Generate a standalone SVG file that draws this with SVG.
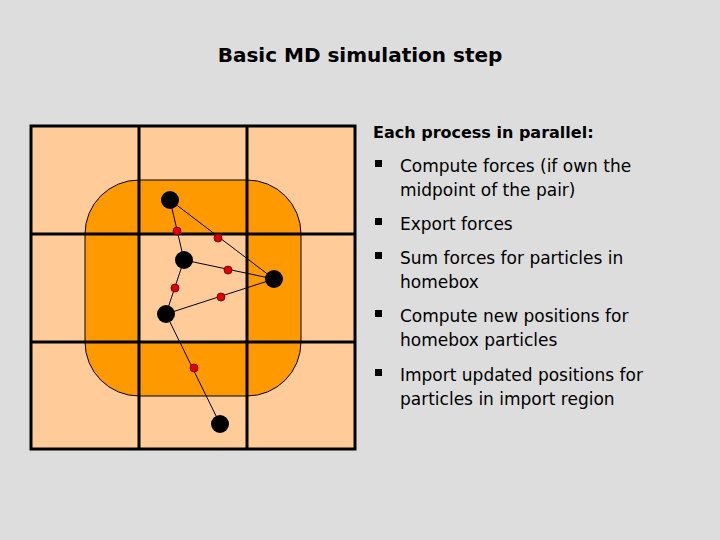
<svg xmlns="http://www.w3.org/2000/svg" width="720" height="540" viewBox="0 0 720 540">
<style>
.t{font-family:"DejaVu Sans","Liberation Sans",sans-serif;font-size:17px;fill:#000}
.b{font-weight:bold}
.g{stroke:#000;stroke-width:3;fill:none}
.bond{stroke:#000;stroke-width:1}
.p{fill:#000}
.m{fill:#e00000;stroke:#600;stroke-width:0.8}
</style>
<rect width="720" height="540" fill="#dddddd"/>
<text class="t b" x="360" y="62" text-anchor="middle" style="font-size:20px">Basic MD simulation step</text>
<g id="grid">
<rect x="31" y="126" width="324" height="323" fill="#ffcc99"/>
<path d="M139 180 H247 A54 54 0 0 1 301 234 V342 A54 54 0 0 1 247 396 H139 A54 54 0 0 1 85 342 V234 A54 54 0 0 1 139 180 Z" fill="#ff9900" stroke="#000" stroke-width="1"/>
<rect x="139" y="234" width="108" height="108" fill="#ffcc99"/>
<path class="g" d="M139 126V449M247 126V449M31 234H355M31 342H355"/>
<rect class="g" x="31" y="126" width="324" height="323"/>
</g>
<g id="connectors">
<path class="bond" d="M170 200L184 260M170 200L274 279M184 260L274 279M184 260L166 314M166 314L274 279M166 314L220 424"/>
</g>
<g id="particles">
<circle class="p" cx="170" cy="200" r="9"/>
<circle class="p" cx="184" cy="260" r="9"/>
<circle class="p" cx="166" cy="314" r="9"/>
<circle class="p" cx="274" cy="279" r="9"/>
<circle class="p" cx="220" cy="424" r="9"/>
</g>
<g id="midpoints">
<circle class="m" cx="177" cy="231" r="4"/>
<circle class="m" cx="218" cy="238" r="4"/>
<circle class="m" cx="228" cy="270" r="4"/>
<circle class="m" cx="175" cy="288" r="4"/>
<circle class="m" cx="221" cy="297" r="4"/>
<circle class="m" cx="194" cy="368" r="4"/>
</g>
<g id="text">
<text class="t b" x="373" y="138" style="font-size:16px">Each process in parallel:</text>
<g><rect x="375" y="160" width="7" height="7"/><rect x="375" y="218" width="7" height="7"/><rect x="375" y="252" width="7" height="7"/><rect x="375" y="310" width="7" height="7"/><rect x="375" y="369" width="7" height="7"/></g>
<text class="t" x="400" y="172">Compute forces (if own the</text>
<text class="t" x="400" y="196">midpoint of the pair)</text>
<text class="t" x="400" y="230">Export forces</text>
<text class="t" x="400" y="264">Sum forces for particles in</text>
<text class="t" x="400" y="288">homebox</text>
<text class="t" x="400" y="322">Compute new positions for</text>
<text class="t" x="400" y="346">homebox particles</text>
<text class="t" x="400" y="381">Import updated positions for</text>
<text class="t" x="400" y="405">particles in import region</text>
</g>
</svg>
